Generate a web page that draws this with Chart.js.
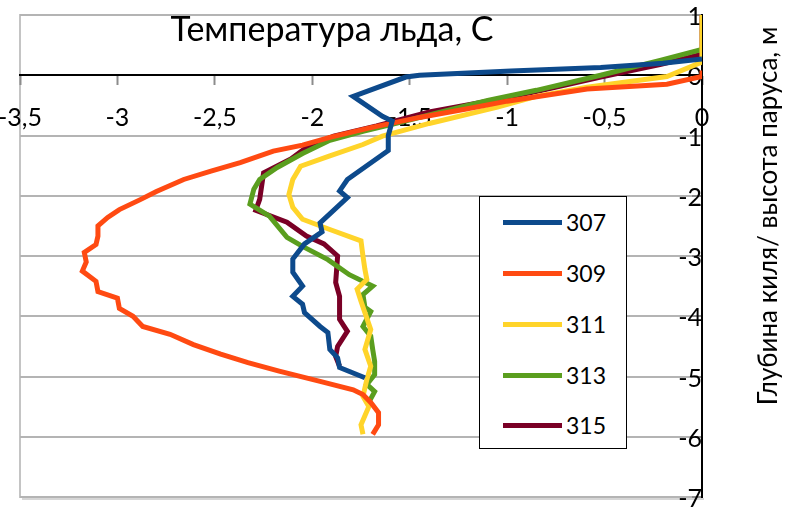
<!DOCTYPE html>
<html><head><meta charset="utf-8">
<script src="https://cdn.jsdelivr.net/npm/chart.js@4.4.1/dist/chart.umd.min.js"></script>
<style>
html,body{margin:0;padding:0;background:#fff;}
#wrap{position:relative;width:794px;height:511px;overflow:hidden;}
#legend{position:absolute;left:479px;top:196px;width:146px;height:251px;border:1px solid #000;background:#fff;font-family:Lato,'Open Sans',sans-serif;font-size:23px;color:#000;}
.item{position:absolute;left:23px;height:30px;display:flex;align-items:center;}
.sw{width:59px;height:5px;margin-right:4px;}
</style></head>
<body><div id="wrap"><canvas id="c" width="794" height="511"></canvas><div id="legend"></div></div>
<script>
const seriesNames = ['307', '309', '311', '313', '315'];
const seriesColors = ['#0D4A8C', '#FF4A12', '#FFD42A', '#5A9E1E', '#7A0026'];
const xTicks = [-3.5, -3, -2.5, -2, -1.5, -1, -0.5, 0];
const yTicks = [1, 0, -1, -2, -3, -4, -5, -6, -7];
const chartTitle = 'Температура льда, С';
const yTitle = 'Глубина киля/ высота паруса, м';

const t307 = [0, -0.2, -0.52, -0.98, -1.45, -1.52, -1.79, -1.64, -1.59, -1.61, -1.61, -1.82, -1.86, -1.82, -1.96, -1.95, -2.04, -2.10, -2.10, -2.05, -2.10, -2.05, -2.04, -1.96, -1.92, -1.91, -1.87, -1.86, -1.73];
const d307 = [0.27, 0.2, 0.13, 0.07, 0.0, -0.03, -0.35, -0.68, -0.76, -1.0, -1.25, -1.73, -1.92, -2.03, -2.45, -2.6, -2.8, -3.05, -3.27, -3.5, -3.67, -3.8, -3.94, -4.17, -4.27, -4.55, -4.69, -4.85, -5.02];

const t309 = [0, 0, -0.18, -0.59, -1.0, -1.21, -1.45, -1.7, -1.91, -2.05, -2.2, -2.37, -2.52, -2.66, -2.80, -2.88, -2.99, -3.05, -3.10, -3.10, -3.11, -3.17, -3.16, -3.18, -3.11, -3.10, -3.0, -2.99, -2.92, -2.87, -2.73, -2.61, -2.47, -2.33, -2.17, -1.96, -1.79, -1.74, -1.70, -1.66, -1.66, -1.69];
const d309 = [0.08, -0.02, -0.15, -0.23, -0.43, -0.56, -0.7, -0.87, -1.03, -1.16, -1.26, -1.45, -1.59, -1.73, -1.93, -2.06, -2.23, -2.36, -2.5, -2.67, -2.81, -2.94, -3.1, -3.25, -3.42, -3.59, -3.7, -3.87, -4.0, -4.17, -4.3, -4.47, -4.63, -4.77, -4.91, -5.08, -5.22, -5.3, -5.43, -5.6, -5.8, -5.96];

const t311 = [0, 0, -0.18, -0.59, -0.85, -1.05, -1.40, -1.64, -1.74, -1.91, -2.06, -2.10, -2.12, -2.10, -2.05, -1.91, -1.75, -1.74, -1.73, -1.72, -1.77, -1.75, -1.73, -1.70, -1.73, -1.70, -1.72, -1.74, -1.71, -1.75, -1.74];
const d311 = [1.0, 0.22, -0.02, -0.2, -0.35, -0.53, -0.8, -1.01, -1.15, -1.34, -1.51, -1.73, -1.98, -2.19, -2.39, -2.56, -2.75, -3.0, -3.22, -3.39, -3.55, -3.75, -3.94, -4.22, -4.55, -4.83, -5.05, -5.33, -5.5, -5.8, -5.96];

const t313 = [0, -0.21, -0.52, -0.85, -1.10, -1.40, -1.57, -1.74, -1.91, -2.05, -2.18, -2.27, -2.30, -2.32, -2.22, -2.13, -2.05, -1.92, -1.81, -1.69, -1.74, -1.73, -1.70, -1.74, -1.70, -1.69, -1.68, -1.68, -1.72, -1.68, -1.71];
const d313 = [0.43, 0.25, 0.0, -0.25, -0.42, -0.66, -0.8, -0.93, -1.08, -1.3, -1.53, -1.73, -1.89, -2.14, -2.34, -2.69, -2.84, -3.06, -3.31, -3.5, -3.64, -3.85, -3.92, -4.17, -4.33, -4.55, -4.75, -4.97, -5.13, -5.25, -5.43];

const t315 = [0, 0, -0.21, -0.52, -0.85, -1.10, -1.40, -1.67, -1.89, -2.03, -2.11, -2.25, -2.26, -2.27, -2.29, -2.13, -2.03, -1.94, -1.87, -1.88, -1.86, -1.86, -1.82, -1.87, -1.88, -1.86];
const d315 = [1.0, 0.35, 0.18, -0.03, -0.27, -0.43, -0.61, -0.84, -1.01, -1.2, -1.39, -1.62, -1.84, -2.06, -2.24, -2.44, -2.67, -2.8, -3.0, -3.44, -3.67, -4.05, -4.25, -4.5, -4.67, -4.83];

const temps = [t307, t309, t311, t313, t315];
const depths = [d307, d309, d311, d313, d315];

const FONT = "Lato, 'Open Sans', sans-serif";

const datasets = seriesNames.map((name, i) => ({
  label: name,
  data: temps[i].map((t, k) => ({x: t, y: depths[i][k]})),
  showLine: true,
  borderColor: seriesColors[i],
  backgroundColor: seriesColors[i],
  borderWidth: 5,
  pointRadius: 0,
  tension: 0,
  borderJoinStyle: 'miter'
}));

function zeroFit(s) {
  if (s.isHorizontal()) s.height = 0; else s.width = 0;
  s.paddingLeft = 0; s.paddingRight = 0; s.paddingTop = 0; s.paddingBottom = 0;
}

const decor = {
  id: 'decor',
  beforeDraw(chart) {
    const {ctx, chartArea: a} = chart;
    ctx.save();
    ctx.strokeStyle = '#c4c4c4';
    ctx.lineWidth = 2;
    ctx.strokeRect(a.left, a.top, a.right - a.left, a.bottom - a.top);
    ctx.strokeStyle = '#d6d6d6';
    ctx.beginPath();
    ctx.moveTo(a.left + 2, a.bottom + 2); ctx.lineTo(a.right + 2, a.bottom + 2);
    ctx.stroke();
    ctx.restore();
  },
  afterDraw(chart) {
    const {ctx} = chart;
    ctx.save();
    ctx.fillStyle = '#000';
    ctx.textAlign = 'center';
    ctx.textBaseline = 'middle';
    ctx.font = '34px ' + FONT;
    ctx.fillText(chartTitle, 332, 30);
    ctx.translate(769, 216);
    ctx.rotate(-Math.PI / 2);
    ctx.font = '26px ' + FONT;
    ctx.fillText(yTitle, 0, 0);
    ctx.restore();
  }
};

new Chart(document.getElementById('c'), {
  type: 'scatter',
  data: {datasets},
  options: {
    responsive: false,
    animation: false,
    layout: {padding: {left: 20, top: 15, right: 92, bottom: 14}},
    plugins: {legend: {display: false}, tooltip: {enabled: false}},
    scales: {
      x: {
        type: 'linear', min: -3.5, max: 0,
        position: {y: 0},
        afterFit: zeroFit,
        afterBuildTicks(s) { s.ticks = xTicks.map(v => ({value: v})); },
        grid: {drawOnChartArea: false, drawTicks: true, tickLength: 9, tickColor: '#8c8c8c', tickWidth: 2},
        border: {display: true, color: '#000', width: 2},
        ticks: {
          autoSkip: false, maxRotation: 0, minRotation: 0, padding: 19, color: '#000',
          font: {family: FONT, size: 25},
          callback: v => String(v).replace('.', ',')
        }
      },
      y: {
        type: 'linear', min: -7, max: 1,
        position: {x: 0},
        afterFit: zeroFit,
        afterBuildTicks(s) { s.ticks = yTicks.map(v => ({value: v})); },
        grid: {color: '#b4b4b4', lineWidth: 2, drawTicks: true, tickLength: 9, tickColor: '#8c8c8c', tickWidth: 2},
        border: {display: true, color: '#000', width: 2},
        ticks: {
          autoSkip: false, padding: 17, labelOffset: 2, color: '#000',
          font: {family: FONT, size: 25},
          callback: v => String(v).replace('.', ',')
        }
      }
    }
  },
  plugins: [decor]
});

const lg = document.getElementById('legend');
const centers = [25, 76, 127, 178, 228];
seriesNames.forEach((name, i) => {
  const it = document.createElement('div');
  it.className = 'item';
  it.style.top = (centers[i] - 15) + 'px';
  const sw = document.createElement('div');
  sw.className = 'sw';
  sw.style.background = seriesColors[i];
  const tx = document.createElement('span');
  tx.textContent = name;
  it.appendChild(sw); it.appendChild(tx);
  lg.appendChild(it);
});
</script>
</body></html>
